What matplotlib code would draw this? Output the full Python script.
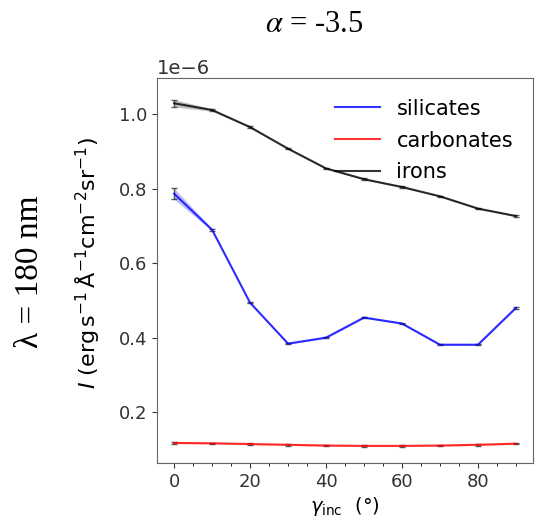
import numpy as np
import matplotlib.pyplot as plt
from matplotlib.ticker import MultipleLocator

# incidence angle (deg)
gamma_inc = [0, 10, 20, 30, 40, 50, 60, 70, 80, 90]

# intensities, units of 1e-6
silicates = [0.787, 0.690, 0.494, 0.384, 0.400, 0.454, 0.438, 0.381, 0.381, 0.480]
carbonates = [0.117, 0.116, 0.114, 0.112, 0.110, 0.109, 0.109, 0.110, 0.112, 0.115]
irons = [1.030, 1.012, 0.966, 0.908, 0.855, 0.826, 0.805, 0.780, 0.747, 0.727]

sil_err = [0.015, 0.003, 0.002, 0.002, 0.002, 0.002, 0.002, 0.002, 0.002, 0.002]
carb_err = [0.002] * 10
iron_err = [0.010, 0.003, 0.002, 0.002, 0.002, 0.002, 0.002, 0.002, 0.002, 0.002]

scale = 1e-6

fig = plt.figure(figsize=(5.36, 5.27), dpi=100)
ax = fig.add_axes([157 / 536, 1 - 463 / 527, (533 - 157) / 536, (463 - 78) / 527])

for y, e, c, lab in [(silicates, sil_err, 'blue', 'silicates'),
                     (carbonates, carb_err, 'red', 'carbonates'),
                     (irons, iron_err, 'black', 'irons')]:
    y = np.array(y) * scale
    e = np.array(e) * scale
    ax.fill_between(gamma_inc, y - e, y + e, color=c, alpha=0.25, lw=0)
    ax.errorbar(gamma_inc, y, yerr=e, color=c, ecolor='#333333', elinewidth=1,
                capsize=2.5, lw=1.5, alpha=0.8, label=lab)

ax.set_xlim(-4.5, 94.5)
ax.set_ylim(0.063e-6, 1.098e-6)
ax.xaxis.set_major_locator(MultipleLocator(20))
ax.xaxis.set_minor_locator(MultipleLocator(5))
ax.tick_params(labelsize=13, colors='#333333')
ax.yaxis.get_offset_text().set_fontsize(14)
for s in ax.spines.values():
    s.set_color('#666666')

ax.set_xlabel(r'$\gamma_{\rm inc}$  (°)', fontsize=14, labelpad=3)
ax.set_ylabel(r'$I$ (erg$\,$s$^{-1}\,$Å$^{-1}$cm$^{-2}$sr$^{-1}$)', fontsize=16)
ax.yaxis.set_label_coords(-0.145, 0.52)

handles, labels = ax.get_legend_handles_labels()
handles = [h[0] for h in handles]
ax.legend(handles, labels, frameon=False, fontsize=15, loc='upper right',
          bbox_to_anchor=(0.997, 0.995), handlelength=2.15, labelspacing=0.57)

fig.text(314 / 536, 1 - 25 / 527, r'$\alpha$ = -3.5', ha='center', va='center',
         fontsize=22, family='Liberation Serif', math_fontfamily='stix')
fig.text(30 / 536, 1 - 272 / 527, 'λ = 180 nm', ha='center', va='center',
         rotation=90, fontsize=24, family='Liberation Serif')

fig.savefig('out.png', dpi=100)
